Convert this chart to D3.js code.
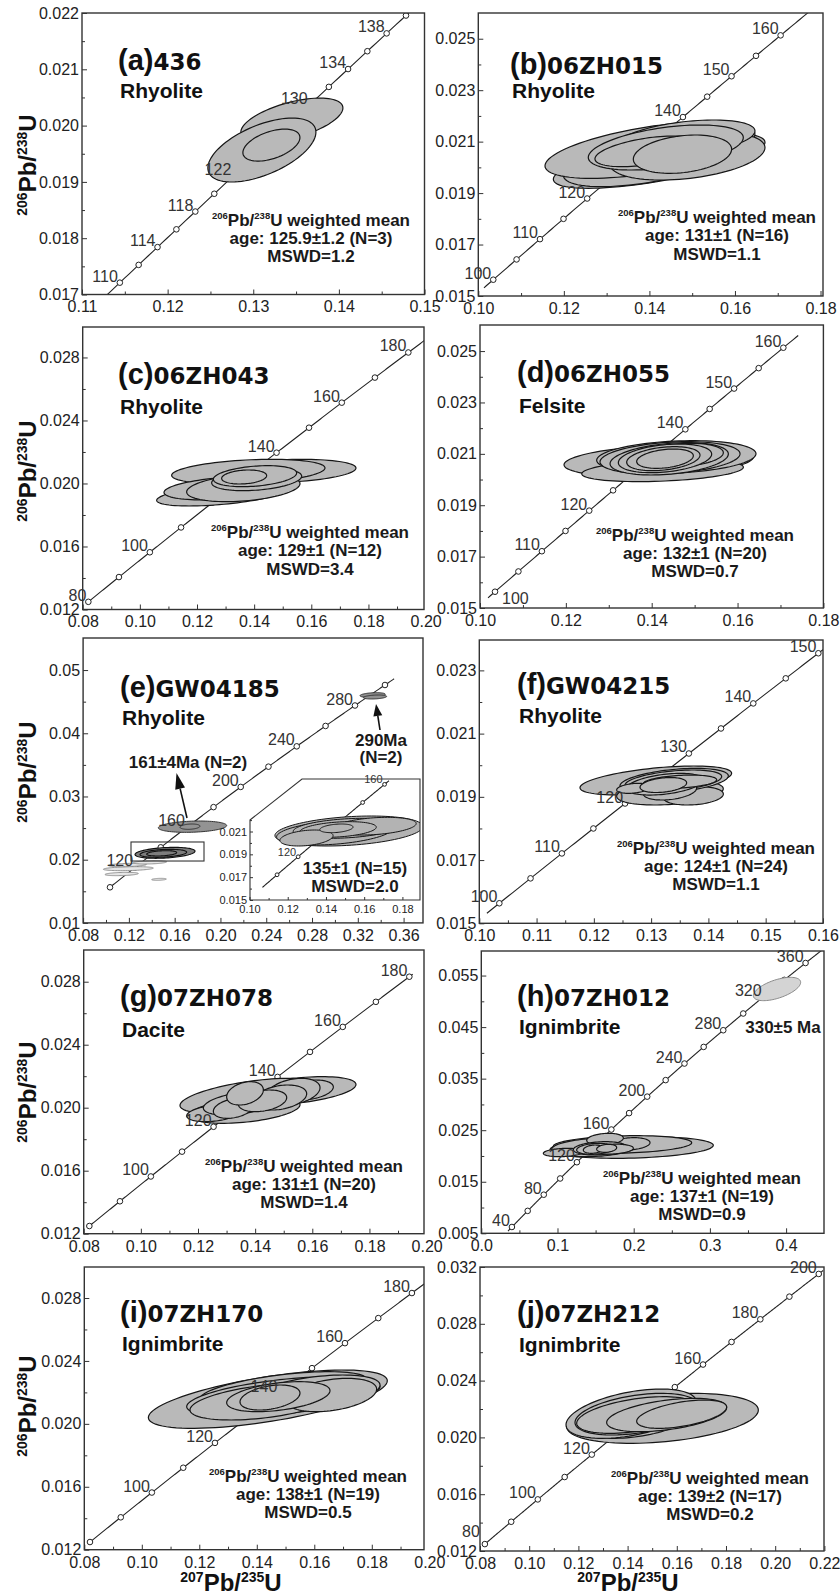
<!DOCTYPE html>
<html>
<head>
<meta charset="utf-8">
<script src="https://cdn.jsdelivr.net/npm/d3@7"></script>
<style>
body { margin: 0; background: #fff; }
text { font-family: "Liberation Sans", Arial, Helvetica, sans-serif; }
</style>
</head>
<body>
<script>
// decay constants, per Ma (used for the concordia curve)
const L238 = 1.55125e-4, L235 = 9.8485e-4;

// concordia age markers and labelled ages, per panel
const agesA = [110,112,114,116,118,120,122,124,126,128,130,132,134,136,138,140,142];
const labA = [110,114,118,122,130,134,138];
const agesB = [100,105,110,115,120,125,130,135,140,145,150,155,160];
const labB = [100,110,120,140,150,160];
const agesC = [80,90,100,110,120,130,140,150,160,170,180];
const labC = [80,100,140,160,180];
const agesD = [100,105,110,115,120,125,130,135,140,145,150,155,160];
const labD = [100,110,120,140,150,160];
const agesE = [100,120,140,160,180,200,220,240,260,280,300];
const labE = [120,160,200,240,280];
const agesInset = [110,120,130,140,150,160];
const labInset = [120,160];
const agesF = [100,105,110,115,120,125,130,135,140,145,150];
const labF = [100,110,120,130,140,150];
const agesG = [80,90,100,110,120,130,140,150,160,170,180];
const labG = [100,120,140,160,180];
const agesH = [40,60,80,100,120,140,160,180,200,220,240,260,280,300,320,340,360];
const labH = [40,80,120,160,200,240,280,320,360];
const agesI = [80,90,100,110,120,130,140,150,160,170,180];
const labI = [100,120,140,160,180];
const agesJ = [80,90,100,110,120,130,140,150,160,170,180,190,200];
const labJ = [80,100,120,160,180,200];

// tick values
const xTicksA = [0.11,0.12,0.13,0.14,0.15];
const yTicksA = [0.017,0.018,0.019,0.020,0.021,0.022];
const xTicksB = [0.10,0.12,0.14,0.16,0.18];
const yTicksB = [0.015,0.017,0.019,0.021,0.023,0.025];
const xTicksC = [0.08,0.10,0.12,0.14,0.16,0.18,0.20];
const yTicksC = [0.012,0.016,0.020,0.024,0.028];
const xTicksE = [0.08,0.12,0.16,0.20,0.24,0.28,0.32,0.36];
const yTicksE = [0.01,0.02,0.03,0.04,0.05];
const xTicksF = [0.10,0.11,0.12,0.13,0.14,0.15,0.16];
const yTicksF = [0.015,0.017,0.019,0.021,0.023];
const xTicksH = [0.0,0.1,0.2,0.3,0.4];
const yTicksH = [0.005,0.015,0.025,0.035,0.045,0.055];
const xTicksJ = [0.08,0.10,0.12,0.14,0.16,0.18,0.20,0.22];
const yTicksJ = [0.012,0.016,0.020,0.024,0.028,0.032];
const xTicksInset = [0.10,0.12,0.14,0.16,0.18];
const yTicksInset = [0.015,0.017,0.019,0.021];

// error ellipses: [207Pb/235U, err, 206Pb/238U, err, rho]
const ellA = [
  [0.13451, 0.00596, 0.020098, 0.000391, 0.55],
  [0.13101, 0.00631, 0.019566, 0.000568, 0.56],
  [0.13212, 0.00333, 0.019654, 0.000284, 0.47]
];
const ellB = [
  [0.14228, 0.02474, 0.020254, 0.001069, 0.67],
  [0.14208, 0.02221, 0.020383, 0.001134, 0.60],
  [0.14013, 0.02454, 0.020675, 0.001102, 0.56],
  [0.14890, 0.01812, 0.020448, 0.000940, 0.34],
  [0.14851, 0.01617, 0.021129, 0.000713, 0.40],
  [0.14383, 0.01812, 0.020772, 0.000875, 0.44],
  [0.13954, 0.01227, 0.020623, 0.000596, 0.49],
  [0.14773, 0.01149, 0.020513, 0.000745, 0.26]
];
const ellC = [
  [0.15068, 0.02496, 0.020793, 0.000741, 0.25],
  [0.13796, 0.02683, 0.020751, 0.000783, 0.30],
  [0.12863, 0.02275, 0.019291, 0.000719, 0.50],
  [0.12980, 0.02135, 0.019693, 0.000741, 0.35],
  [0.13621, 0.01983, 0.019725, 0.000878, 0.30],
  [0.14088, 0.01575, 0.020253, 0.000709, 0.30],
  [0.14030, 0.01458, 0.020465, 0.000667, 0.30],
  [0.13650, 0.00787, 0.020412, 0.000445, 0.20]
];
const ellD = [
  [0.14163, 0.02206, 0.020728, 0.000616, 0.25],
  [0.14253, 0.01883, 0.020352, 0.000434, 0.30],
  [0.14574, 0.01856, 0.020877, 0.000636, 0.20],
  [0.14427, 0.01631, 0.020845, 0.000629, 0.25],
  [0.14408, 0.01378, 0.020806, 0.000629, 0.30],
  [0.14737, 0.00932, 0.020955, 0.000454, 0.20],
  [0.14310, 0.01087, 0.020825, 0.000558, 0.30],
  [0.14271, 0.00854, 0.020812, 0.000467, 0.30],
  [0.14310, 0.00660, 0.020812, 0.000376, 0.30]
];
const ellE161 = [
  [0.17558, 0.02985, 0.025224, 0.000896, 0.2],
  [0.17339, 0.00874, 0.025224, 0.000422, 0.2]
];
const ellE290 = [
  [0.33298, 0.01107, 0.046054, 0.000369, 0.3],
  [0.33502, 0.01019, 0.045738, 0.000316, 0.3]
];
const ellE135 = [
  [0.15155, 0.02621, 0.021085, 0.000870, 0.3],
  [0.15010, 0.02038, 0.021006, 0.000633, 0.3],
  [0.14864, 0.01310, 0.021006, 0.000420, 0.3]
];
const ellEdisc = [
  [0.11952, 0.02184, 0.018580, 0.000316, 0.3],
  [0.11370, 0.01456, 0.017736, 0.000264, 0.3],
  [0.11865, 0.01660, 0.019160, 0.000264, 0.3],
  [0.14631, 0.00640, 0.016892, 0.000158, 0.3],
  [0.13845, 0.01456, 0.019582, 0.000264, 0.3]
];
const ellInset = [
  [0.15199, 0.03869, 0.021044, 0.001314, 0.30],
  [0.14460, 0.03043, 0.020913, 0.001095, 0.35],
  [0.15069, 0.02782, 0.021278, 0.000876, 0.30],
  [0.16547, 0.02174, 0.021468, 0.000774, 0.30],
  [0.14634, 0.02000, 0.021176, 0.000686, 0.30],
  [0.12982, 0.01391, 0.020431, 0.000700, 0.30],
  [0.14547, 0.00870, 0.021278, 0.000380, 0.30]
];
const ellF = [
  [0.13082, 0.01324, 0.019517, 0.000458, 0.5],
  [0.13329, 0.00931, 0.019137, 0.000395, 0.3],
  [0.13737, 0.00524, 0.019032, 0.000290, 0.2],
  [0.13402, 0.00946, 0.019506, 0.000395, 0.4],
  [0.13388, 0.00844, 0.019506, 0.000343, 0.4],
  [0.13329, 0.00466, 0.019190, 0.000290, 0.3],
  [0.13242, 0.00669, 0.019400, 0.000343, 0.4],
  [0.13504, 0.00640, 0.019479, 0.000210, 0.3],
  [0.12690, 0.00291, 0.019269, 0.000158, 0.3],
  [0.13213, 0.00407, 0.019374, 0.000237, 0.3]
];
const ellG = [
  [0.15383, 0.02146, 0.021071, 0.000899, 0.45],
  [0.13820, 0.02450, 0.020754, 0.001111, 0.55],
  [0.13645, 0.01925, 0.019855, 0.000846, 0.40],
  [0.12537, 0.00933, 0.019642, 0.000529, 0.30],
  [0.13470, 0.01283, 0.020277, 0.000741, 0.40],
  [0.15861, 0.00875, 0.021124, 0.000635, 0.30],
  [0.15337, 0.00933, 0.021018, 0.000846, 0.30],
  [0.14870, 0.00933, 0.020648, 0.000794, 0.30],
  [0.13237, 0.00700, 0.019960, 0.000635, 0.30],
  [0.14258, 0.00846, 0.020436, 0.000688, 0.30],
  [0.13645, 0.00642, 0.020912, 0.000741, 0.30]
];
const ellH = [
  [0.19733, 0.10716, 0.021644, 0.002100, 0.2],
  [0.18530, 0.09076, 0.022226, 0.001713, 0.2],
  [0.14812, 0.05577, 0.021644, 0.001778, 0.2],
  [0.10766, 0.02624, 0.020674, 0.000808, 0.2],
  [0.19515, 0.02624, 0.022355, 0.001196, 0.2],
  [0.16234, 0.02406, 0.023261, 0.001132, 0.2],
  [0.15578, 0.03500, 0.021482, 0.001293, 0.2],
  [0.17108, 0.02843, 0.021321, 0.000970, 0.2],
  [0.14922, 0.02406, 0.021386, 0.001067, 0.2],
  [0.14703, 0.01312, 0.021321, 0.000808, 0.2],
  [0.16453, 0.01312, 0.021482, 0.000776, 0.2]
];
const ellH330 = [[0.38806, 0.03106, 0.052391, 0.002263, 0.57]];
const ellI = [
  [0.14384, 0.04156, 0.021569, 0.001854, 0.63],
  [0.14923, 0.02899, 0.022205, 0.001112, 0.55],
  [0.14923, 0.03362, 0.021728, 0.001271, 0.50],
  [0.15967, 0.02319, 0.021940, 0.001165, 0.45],
  [0.14227, 0.02551, 0.021410, 0.001165, 0.45],
  [0.16604, 0.01565, 0.021834, 0.001060, 0.35],
  [0.14749, 0.01797, 0.021728, 0.000954, 0.40],
  [0.14459, 0.01043, 0.021675, 0.000795, 0.35]
];
const ellJ = [
  [0.15419, 0.03896, 0.021342, 0.001760, 0.33],
  [0.14369, 0.02304, 0.021284, 0.001350, 0.40],
  [0.14152, 0.02656, 0.021671, 0.001737, 0.45],
  [0.14369, 0.02507, 0.021635, 0.001467, 0.40],
  [0.14369, 0.02439, 0.021577, 0.001291, 0.45],
  [0.15588, 0.02439, 0.021577, 0.001174, 0.45],
  [0.16198, 0.01829, 0.021635, 0.000997, 0.50]
];

// zoom box and arrows of panel (e), data coordinates
const zoomBoxE = [0.12185, 0.18563, 0.01979, 0.0228];
const arrowsE = [
  [0.17077, 0.026596, 0.16160, 0.033715],
  [0.33939, 0.040517, 0.33590, 0.044631]
];

// sample names, rocks, results
const names = ['436','06ZH015','06ZH043','06ZH055','GW04185','GW04215','07ZH078','07ZH012','07ZH170','07ZH212'];
const rocks = ['Rhyolite','Rhyolite','Rhyolite','Felsite','Rhyolite','Rhyolite','Dacite','Ignimbrite','Ignimbrite','Ignimbrite'];
const meanAges = ['125.9\u00b11.2 (N=3)','131\u00b11 (N=16)','129\u00b11 (N=12)','132\u00b11 (N=20)','135\u00b11 (N=15)','124\u00b11 (N=24)','131\u00b11 (N=20)','137\u00b11 (N=19)','138\u00b11 (N=19)','139\u00b12 (N=17)'];
const mswds = ['1.2','1.1','3.4','0.7','2.0','1.1','1.4','0.9','0.5','0.2'];

const W = 840, H = 1595;
const FONT = '"Liberation Sans", Arial, Helvetica, sans-serif';
const svg = d3.select('body').append('svg').attr('width', W).attr('height', H);

function conc(t) { return [Math.expm1(L235 * t), Math.expm1(L238 * t)]; }

function ellipsePts(e) {
  const [x, sx, y, sy, r] = e;
  const q = Math.sqrt(1 - r * r);
  return d3.range(0, 90).map(i => {
    const a = i / 90 * 2 * Math.PI;
    return [x + sx * Math.cos(a), y + sy * (r * Math.cos(a) + q * Math.sin(a))];
  });
}

function midTicks(t, dom, sc) {
  const out = [];
  for (let i = 0; i < t.length - 1; i++) out.push((t[i] + t[i + 1]) / 2);
  const st = t[1] - t[0];
  [t[0] - st / 2, t[t.length - 1] + st / 2].forEach(v => {
    const px = sc(v), r = sc.range();
    if (px > Math.min(r[0], r[1]) + 2 && px < Math.max(r[0], r[1]) - 2) out.push(v);
  });
  return out;
}

function isoText(sel, parts, big, small, rise) {
  parts.forEach(([s, up], i) => {
    const t = sel.append('tspan').text(s).attr('font-size', up ? small : big);
    if (up) t.attr('dy', -rise);
    else if (i > 0 && parts[i - 1][1]) t.attr('dy', rise);
  });
}

const panels = [
  {fr:[82,424.5,13,294.5], xd:[0.11,0.15], yd:[0.017,0.022], xt:xTicksA, yt:yTicksA, xf:'.2f', yf:'.3f',
   ages:agesA, lab:labA, top:[130], span:[105,146], ell:ellA, title:[118,70,97.5], note:[311,225.5], ytitle:165},
  {fr:[478.3,823,13,296], xd:[0.10,0.18058], yd:[0.015,0.026], xt:xTicksB, yt:yTicksB, xf:'.2f', yf:'.3f',
   ages:agesB, lab:labB, top:[], span:[98,172], ell:ellB, title:[510,74,97.5], note:[717,223]},
  {fr:[82.7,424,327,609.5], xd:[0.08,0.19944], yd:[0.012,0.029934], xt:xTicksC, yt:yTicksC, xf:'.2f', yf:'.3f',
   ages:agesC, lab:labC, top:[], span:[79.5,200], ell:ellC, title:[118,384,414], note:[310,538], ytitle:471},
  {fr:[480,823.4,325,608], xd:[0.10,0.18], yd:[0.015,0.026015], xt:xTicksB, yt:yTicksB, xf:'.2f', yf:'.3f',
   ages:agesD, lab:labD, top:[], span:[98.5,163], ell:ellD, title:[517,382,413], note:[695,540.5], special:{100:[7,12,'start']}},
  {fr:[83.1,423,638,922.9], xd:[0.08,0.37696], yd:[0.01,0.055072], xt:xTicksE, yt:yTicksE, xf:'.2f', yf:'.2f',
   ages:agesE, lab:labE, top:[], span:[99,306], ell:[], title:[120,697,725], ytitle:772, isE:true},
  {fr:[479.3,823,640,923.3], xd:[0.10,0.16001], yd:[0.015,0.023961], xt:xTicksF, yt:yTicksF, xf:'.2f', yf:'.3f',
   ages:agesF, lab:labF, top:[], span:[98,160], ell:ellF, title:[517,694,723], note:[716,853.5]},
  {fr:[83.7,424,950,1233.7], xd:[0.08,0.19909], yd:[0.012,0.030013], xt:xTicksC, yt:yTicksC, xf:'.2f', yf:'.3f',
   ages:agesG, lab:labG, top:[], span:[79.5,181], ell:ellG, title:[120,1006,1036.5], note:[304,1171.5], ytitle:1092},
  {fr:[481.3,824,951,1233.3], xd:[0,0.44974], yd:[0.005,0.059763], xt:xTicksH, yt:yTicksH, xf:'.1f', yf:'.3f',
   ages:agesH, lab:labH, top:[], span:[35,390], ell:ellH, title:[517,1006,1034], note:[702,1183.5], isH:true},
  {fr:[84.3,424,1267,1549.7], xd:[0.08,0.19816], yd:[0.012,0.029971], xt:xTicksC, yt:yTicksC, xf:'.2f', yf:'.3f',
   ages:agesI, lab:labI, top:[140], span:[79.5,200], ell:ellI, title:[120,1322,1351], note:[308,1481.5], ytitle:1406, xtitle:231},
  {fr:[480,824,1267,1551], xd:[0.08,0.21984], yd:[0.012,0.032], xt:xTicksJ, yt:yTicksJ, xf:'.2f', yf:'.3f',
   ages:agesJ, lab:labJ, top:[], span:[79.5,201.5], ell:ellJ, title:[517,1322,1351.5], note:[710,1483.5], xtitle:628,
   special:{80:[-5,-7,'end']}}
];

const FILL = '#b9b9b9', STROKE = '#161616';

function drawEllipses(g, data, xs, ys, fill, stroke, sw) {
  const line = d3.line().x(d => xs(d[0])).y(d => ys(d[1])).curve(d3.curveLinearClosed);
  g.selectAll(null).data(data).join('path')
    .attr('d', d => line(ellipsePts(d)))
    .attr('fill', fill).attr('stroke', stroke).attr('stroke-width', sw);
}

function drawConcordia(g, xs, ys, span, ages, r) {
  const ts = d3.range(span[0], span[1] + 0.001, 0.5);
  g.append('path')
    .attr('d', d3.line().x(t => xs(conc(t)[0])).y(t => ys(conc(t)[1]))(ts))
    .attr('fill', 'none').attr('stroke', '#222').attr('stroke-width', 1.1);
  g.selectAll(null).data(ages).join('circle')
    .attr('cx', t => xs(conc(t)[0])).attr('cy', t => ys(conc(t)[1])).attr('r', r)
    .attr('fill', '#fff').attr('stroke', '#222').attr('stroke-width', 1);
}

function drawAgeLabels(g, xs, ys, list, fs, special) {
  const sp = special || {};
  const off = t => sp[t] || [-2, -1, 'end'];
  g.selectAll(null).data(list).join('text')
    .attr('x', t => xs(conc(t)[0]) + off(t)[0])
    .attr('y', t => ys(conc(t)[1]) + off(t)[1])
    .attr('text-anchor', t => off(t)[2])
    .attr('font-size', fs).attr('fill', '#333')
    .text(t => t);
}

function drawAxes(g, xs, ys, p, fs, pad, major, minor) {
  const [x0, x1, y0, y1] = p.fr;
  const bx = g.append('g').attr('transform', `translate(0,${y1})`)
    .call(d3.axisBottom(xs).tickValues(p.xt).tickFormat(d3.format(p.xf)).tickSize(-major).tickSizeOuter(0).tickPadding(pad));
  const mx = g.append('g').attr('transform', `translate(0,${y1})`)
    .call(d3.axisBottom(xs).tickValues(midTicks(p.xt, p.xd, xs)).tickFormat(() => '').tickSize(-minor).tickSizeOuter(0));
  const ly = g.append('g').attr('transform', `translate(${x0},0)`)
    .call(d3.axisLeft(ys).tickValues(p.yt).tickFormat(d3.format(p.yf)).tickSize(-major).tickSizeOuter(0).tickPadding(3));
  const my = g.append('g').attr('transform', `translate(${x0},0)`)
    .call(d3.axisLeft(ys).tickValues(midTicks(p.yt, p.yd, ys)).tickFormat(() => '').tickSize(-minor).tickSizeOuter(0));
  [bx, mx, ly, my].forEach(a => {
    a.select('.domain').remove();
    a.attr('font-size', fs).attr('font-family', FONT);
    a.selectAll('line').attr('stroke', '#333');
    a.selectAll('text').attr('fill', '#222');
    const horiz = a === bx || a === mx;
    a.selectAll('.tick').filter(d => {
      const px = horiz ? xs(d) : ys(d);
      return horiz ? (px < x0 - 1 || px > x1 + 1) : (px < y0 - 1 || px > y1 + 1);
    }).select('line').remove();
  });
}

function noteLines(g, cx, y, ageTxt, mswd) {
  const t1 = g.append('text').attr('x', cx).attr('y', y).attr('text-anchor', 'middle')
    .attr('font-weight', 'bold').attr('fill', '#1a1a1a');
  isoText(t1, [['206', 1], ['Pb/', 0], ['238', 1], ['U weighted mean', 0]], 17, 9.5, 7);
  g.append('text').attr('x', cx).attr('y', y + 18.3).attr('text-anchor', 'middle')
    .attr('font-weight', 'bold').attr('font-size', 17).attr('fill', '#1a1a1a').text('age: ' + ageTxt);
  g.append('text').attr('x', cx).attr('y', y + 36.6).attr('text-anchor', 'middle')
    .attr('font-weight', 'bold').attr('font-size', 17).attr('fill', '#1a1a1a').text('MSWD=' + mswd);
}

function arrow(g, x1, y1, x2, y2, len, hw) {
  const dx = x2 - x1, dy = y2 - y1, L = Math.hypot(dx, dy);
  const ux = dx / L, uy = dy / L;
  const bxp = x2 - ux * len, byp = y2 - uy * len;
  g.append('line').attr('x1', x1).attr('y1', y1).attr('x2', bxp).attr('y2', byp)
    .attr('stroke', '#111').attr('stroke-width', 1.6);
  g.append('path').attr('d', `M${x2},${y2}L${bxp - uy * hw},${byp + ux * hw}L${bxp + uy * hw},${byp - ux * hw}Z`)
    .attr('fill', '#111');
}

panels.forEach((p, i) => {
  const [x0, x1, y0, y1] = p.fr;
  const xs = d3.scaleLinear().domain(p.xd).range([x0, x1]);
  const ys = d3.scaleLinear().domain(p.yd).range([y1, y0]);
  const g = svg.append('g');
  const cid = 'clip' + i;
  svg.append('clipPath').attr('id', cid).append('rect')
    .attr('x', x0).attr('y', y0).attr('width', x1 - x0).attr('height', y1 - y0);
  const plot = g.append('g').attr('clip-path', `url(#${cid})`);

  drawConcordia(plot, xs, ys, p.span, p.ages, 2.8);
  drawAgeLabels(g, xs, ys, p.lab.filter(t => !p.top.includes(t)), 16, p.special);

  if (p.isE) {
    drawEllipses(plot, ellEdisc, xs, ys, '#e6e6e6', '#8a8a8a', 0.9);
    drawEllipses(plot, ellE161, xs, ys, '#939393', '#333', 1);
    drawEllipses(plot, ellE290, xs, ys, '#8f8f8f', '#333', 1);
    drawEllipses(plot, ellE135, xs, ys, '#7d7d7d', '#111', 1.1);
    plot.append('rect')
      .attr('x', xs(zoomBoxE[0])).attr('y', ys(zoomBoxE[3]))
      .attr('width', xs(zoomBoxE[1]) - xs(zoomBoxE[0])).attr('height', ys(zoomBoxE[2]) - ys(zoomBoxE[3]))
      .attr('fill', 'none').attr('stroke', '#333').attr('stroke-width', 1.1);
    arrowsE.forEach((a, k) => arrow(g, xs(a[0]), ys(a[1]), xs(a[2]), ys(a[3]), k === 0 ? 16 : 12, k === 0 ? 5 : 4.5));

    // inset
    const ipoly = [[250, 820], [302, 779], [420, 779], [420, 900], [250, 900]];
    const ix = d3.scaleLinear().domain([0.10, 0.1892]).range([249.5, 420]);
    const iy = d3.scaleLinear().domain([0.015, 0.0256]).range([900, 779]);
    g.append('path').attr('d', 'M' + ipoly.join('L') + 'Z').attr('fill', '#fff');
    svg.append('clipPath').attr('id', 'clipInset').append('path').attr('d', 'M' + ipoly.join('L') + 'Z');
    const ig = g.append('g').attr('clip-path', 'url(#clipInset)');
    drawConcordia(ig, ix, iy, [103, 162], agesInset, 1.9);
    drawAgeLabels(g, ix, iy, labInset, 11, null);
    drawEllipses(ig, ellInset, ix, iy, '#b3b3b3', '#161616', 1);
    const ip = {fr:[250, 420, 779, 900], xt:xTicksInset, yt:yTicksInset, xd:[0.10, 0.1892], yd:[0.015, 0.0256], xf:'.2f', yf:'.3f'};
    drawAxes(g, ix, iy, ip, 11, 5, 3, 2);
    g.append('path').attr('d', 'M' + ipoly.join('L') + 'Z')
      .attr('fill', 'none').attr('stroke', '#333').attr('stroke-width', 1.1);

    const bold = (x, y, s) => g.append('text').attr('x', x).attr('y', y).attr('text-anchor', 'middle')
      .attr('font-weight', 'bold').attr('font-size', 17).attr('fill', '#1a1a1a').text(s);
    bold(188, 768, '161\u00b14Ma (N=2)');
    bold(381, 746, '290Ma');
    bold(381, 763, '(N=2)');
    bold(355, 874, meanAges[4]);
    bold(355, 892, 'MSWD=' + mswds[4]);
  } else {
    if (p.isH) drawEllipses(plot, ellH330, xs, ys, '#d4d4d4', '#8a8a8a', 1);
    drawEllipses(plot, p.ell, xs, ys, FILL, STROKE, 1.2);
    drawAgeLabels(g, xs, ys, p.top, 16, null);
    noteLines(g, p.note[0], p.note[1], meanAges[i], mswds[i]);
    if (p.isH) {
      g.append('text').attr('x', 783).attr('y', 1033).attr('text-anchor', 'middle')
        .attr('font-weight', 'bold').attr('font-size', 17).attr('fill', '#1a1a1a').text('330\u00b15 Ma');
    }
  }

  drawAxes(g, xs, ys, p, 16, 6.5, 5, 3);
  g.append('rect').attr('x', x0).attr('y', y0).attr('width', x1 - x0).attr('height', y1 - y0)
    .attr('fill', 'none').attr('stroke', '#333').attr('stroke-width', 1.4);

  // panel title and rock type
  const tt = g.append('text').attr('x', p.title[0]).attr('y', p.title[1]).attr('fill', '#111');
  tt.append('tspan').text('(' + 'abcdefghij'[i] + ')').attr('font-size', 29).attr('font-weight', 'bold');
  tt.append('tspan').text(names[i]).attr('font-size', 23).attr('font-weight', 'bold')
    .attr('font-family', '"DejaVu Sans", Verdana, sans-serif');
  g.append('text').attr('x', p.title[0] + 2).attr('y', p.title[2]).attr('font-size', 21)
    .attr('font-weight', 'bold').attr('fill', '#111').text(rocks[i]);

  if (p.ytitle) {
    const yt = g.append('text').attr('transform', `translate(36,${p.ytitle}) rotate(-90)`)
      .attr('text-anchor', 'middle').attr('font-weight', 'bold').attr('fill', '#111');
    isoText(yt, [['206', 1], ['Pb/', 0], ['238', 1], ['U', 0]], 24, 14, 9);
  }
  if (p.xtitle) {
    const xt = g.append('text').attr('x', p.xtitle).attr('y', 1591)
      .attr('text-anchor', 'middle').attr('font-weight', 'bold').attr('fill', '#111');
    isoText(xt, [['207', 1], ['Pb/', 0], ['235', 1], ['U', 0]], 24, 14, 9);
  }
});
</script>
</body>
</html>
